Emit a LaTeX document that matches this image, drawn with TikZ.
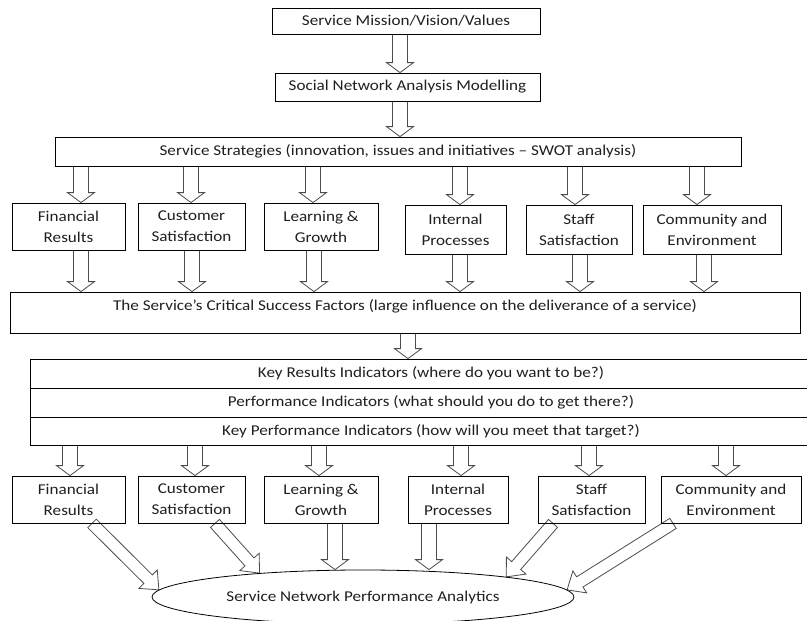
\documentclass[tikz,border=0pt]{standalone}
\usepackage{fontspec}
\setmainfont{Carlito}[FakeStretch=1.14]
\usetikzlibrary{calc,shapes.geometric}
\pgfdeclarelayer{arrows}
\pgfsetlayers{arrows,main}
\definecolor{arrowcol}{gray}{0.3}
\definecolor{inkcol}{gray}{0.12}
% half width of shaft, half width of head, length of head for the block arrows
\newcommand\ashaft{7.5pt}
\newcommand\ahead{13.5pt}
\newcommand\alen{10pt}
\tikzset{
  shafthalf/.store in=\ashaft,
  headhalf/.store in=\ahead,
  headlen/.store in=\alen,
  box/.style={draw=black, line width=0.8pt, inner sep=0pt, align=center,
    text=inkcol, font=\fontsize{15}{21}\selectfont},
  txt/.style={inner sep=0pt, text=inkcol, font=\fontsize{15}{21}\selectfont},
  % outlined block arrow from the start point to the target point
  barrow/.style={draw=arrowcol, fill=white, line width=0.8pt, line join=miter,
    to path={let \p1=(\tikztostart), \p2=(\tikztotarget),
      \n1={atan2(\y2-\y1,\x2-\x1)}, \n2={veclen(\x2-\x1,\y2-\y1)} in
      ($(\p1)+({\n1+90}:\ashaft)$)
      -- ($(\p1)+(\n1:{\n2*1pt-\alen})+({\n1+90}:\ashaft)$)
      -- ($(\p1)+(\n1:{\n2*1pt-\alen})+({\n1+90}:\ahead)$)
      -- (\p2)
      -- ($(\p1)+(\n1:{\n2*1pt-\alen})+({\n1-90}:\ahead)$)
      -- ($(\p1)+(\n1:{\n2*1pt-\alen})+({\n1-90}:\ashaft)$)
      -- ($(\p1)+({\n1-90}:\ashaft)$) -- cycle}},
  diag/.style={shafthalf=6pt, headhalf=13pt, headlen=15pt}
}
\begin{document}
\begin{tikzpicture}[x=1pt,y=-1pt]
\useasboundingbox (0,0) rectangle (807,621);

% top chain
\node[box, minimum width=268pt, minimum height=26pt] (mission) at (406,21) {Service Mission/Vision/Values};
\node[box, minimum width=265pt, minimum height=28pt] (sna) at (407.5,87) {Social Network Analysis Modelling};
\node[box, minimum width=686pt, minimum height=29pt] (strat) at (398,151.5) {Service Strategies (innovation, issues and initiatives -- SWOT analysis)};

% first row of perspectives
\node[box, minimum width=113pt, minimum height=47pt] (f1) at (68.5,226.5) {Financial\\Results};
\node[box, minimum width=107pt, minimum height=47pt] (c1) at (191.5,226.5) {Customer\\Satisfaction};
\node[box, minimum width=114pt, minimum height=47pt] (l1) at (321,226.5) {Learning \&\\Growth};
\node[box, minimum width=101pt, minimum height=49pt] (i1) at (455.5,229.5) {Internal\\Processes};
\node[box, minimum width=106pt, minimum height=49pt] (s1) at (579,229.5) {Staff\\Satisfaction};
\node[box, minimum width=138pt, minimum height=49pt] (e1) at (712,229.5) {Community and\\Environment};

% critical success factors
\node[box, minimum width=790pt, minimum height=41pt] (csf) at (405,312.5) {};
\node[txt] (csftext) at (405,306) {The Service’s Critical Success Factors (large influence on the deliverance of a service)};

% indicator stack
\node[box, minimum width=802pt, minimum height=29pt] (kri) at (431,373.5) {Key Results Indicators (where do you want to be?)};
\node[box, minimum width=802pt, minimum height=29pt] (pi) at (431,402.5) {Performance Indicators (what should you do to get there?)};
\node[box, minimum width=802pt, minimum height=28pt] (kpi) at (431,431) {Key Performance Indicators (how will you meet that target?)};

% second row of perspectives
\node[box, minimum width=113pt, minimum height=47pt] (f2) at (68.5,499.5) {Financial\\Results};
\node[box, minimum width=107pt, minimum height=47pt] (c2) at (191.5,499.5) {Customer\\Satisfaction};
\node[box, minimum width=114pt, minimum height=47pt] (l2) at (321,499.5) {Learning \&\\Growth};
\node[box, minimum width=100pt, minimum height=47pt] (i2) at (458,499.5) {Internal\\Processes};
\node[box, minimum width=107pt, minimum height=47pt] (s2) at (591.5,499.5) {Staff\\Satisfaction};
\node[box, minimum width=140pt, minimum height=47pt] (e2) at (731,499.5) {Community and\\Environment};

% analytics
\node[box, ellipse, minimum width=422pt, minimum height=54pt] (ana) at (363,597) {Service Network Performance Analytics};

\begin{pgfonlayer}{arrows}
\draw[barrow] (mission.south -| 400,0) to (sna.north -| 400,0);
\draw[barrow] (sna.south -| 400,0) to (strat.north -| 400,0);

\draw[barrow] (strat.south -| 81,0) to (f1.north -| 81,0);
\draw[barrow] (strat.south -| 191,0) to (c1.north -| 191,0);
\draw[barrow] (strat.south -| 313,0) to (l1.north -| 313,0);
\draw[barrow] (strat.south -| 460,0) to (i1.north -| 460,0);
\draw[barrow] (strat.south -| 575,0) to (s1.north -| 575,0);
\draw[barrow] (strat.south -| 697,0) to (e1.north -| 697,0);

\draw[barrow] (f1.south -| 81,0) to (csf.north -| 81,0);
\draw[barrow] (c1.south -| 192,0) to (csf.north -| 192,0);
\draw[barrow] (l1.south -| 314,0) to (csf.north -| 314,0);
\draw[barrow] (i1.south -| 460,0) to (csf.north -| 460,0);
\draw[barrow] (s1.south -| 580,0) to (csf.north -| 580,0);
\draw[barrow] (e1.south -| 704,0) to (csf.north -| 704,0);

\draw[barrow] (csf.south -| 408,0) to (kri.north -| 408,0);

\draw[barrow] (kpi.south -| 70,0) to (f2.north -| 70,0);
\draw[barrow] (kpi.south -| 195,0) to (c2.north -| 195,0);
\draw[barrow] (kpi.south -| 319,0) to (l2.north -| 319,0);
\draw[barrow] (kpi.south -| 461,0) to (i2.north -| 461,0);
\draw[barrow] (kpi.south -| 589,0) to (s2.north -| 589,0);
\draw[barrow] (kpi.south -| 726,0) to (e2.north -| 726,0);

\draw[barrow, diag] ($(f2.south)+(23.5,0)$) to (ana.178);
\draw[barrow, diag] ($(c2.south)+(23.5,0)$) to (ana.167);
\draw[barrow] (l2.south -| 335,0) to (ana.north -| 335,0);
\draw[barrow] (i2.south -| 429,0) to (ana.north -| 429,0);
\draw[barrow, diag] ($(s2.south)+(-38.5,0)$) to (ana.8);
\draw[barrow, diag] ($(e2.south)+(-58,0)$) to (ana.2);
\end{pgfonlayer}
\end{tikzpicture}
\end{document}
